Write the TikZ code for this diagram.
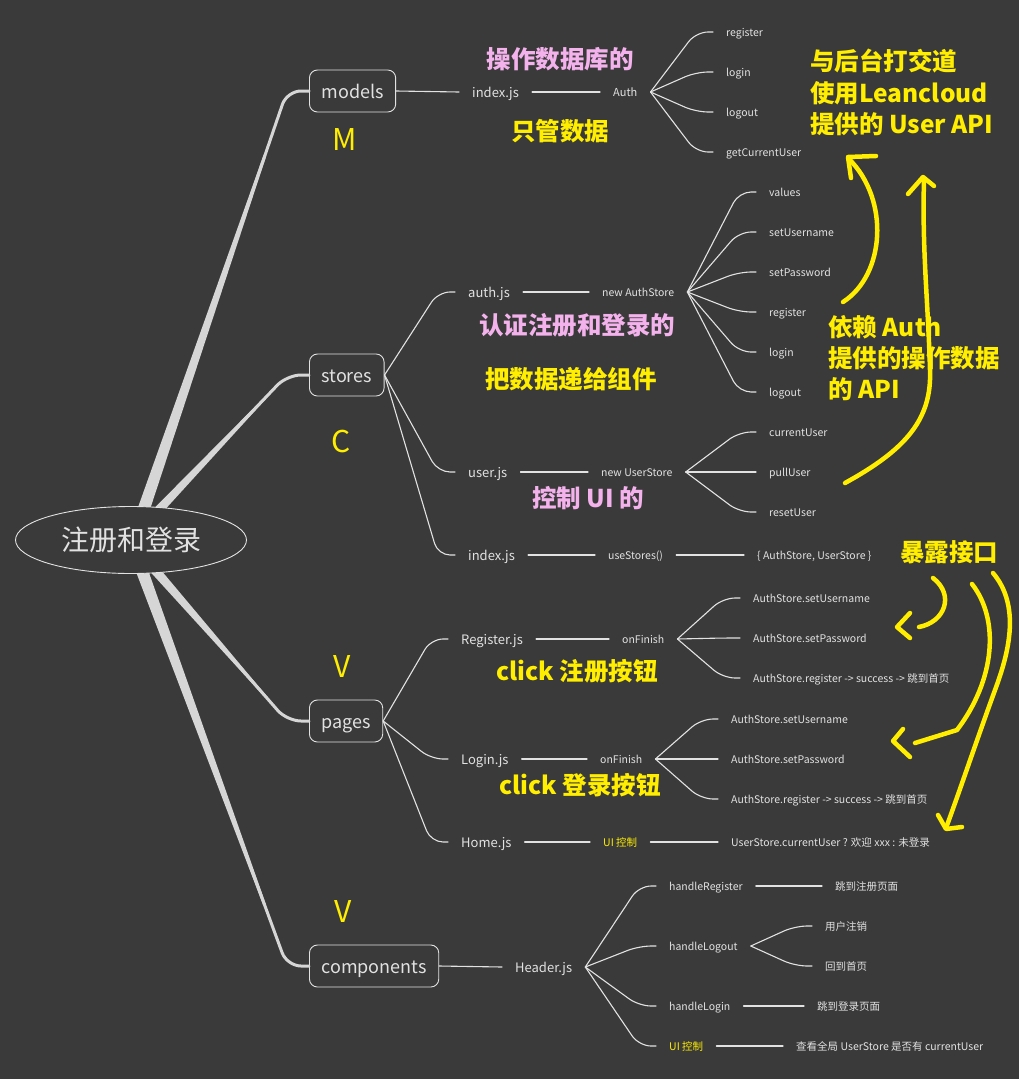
\documentclass[tikz,border=0pt]{standalone}
\usepackage{fontspec}
\setmainfont{Noto Sans CJK SC}
\usetikzlibrary{calc,shapes.geometric}
\definecolor{bg}{RGB}{58,58,58}
\definecolor{ink}{RGB}{226,226,226}
\definecolor{limb}{RGB}{214,214,214}
\definecolor{hl}{RGB}{255,238,0}
\definecolor{pk}{RGB}{243,178,236}
\begin{document}
\begin{tikzpicture}[x=1pt, y=-1pt, line join=round, line cap=round,
    lf/.style={anchor=west, inner sep=0pt, text=ink, text height=10pt, text depth=2pt, font=\fontsize{10.5}{12}\selectfont},
    fl/.style={lf, text height=12pt, font=\fontsize{13}{15}\selectfont},
    box/.style={draw=ink, line width=.9pt, rounded corners=8pt, anchor=west, text=ink, minimum height=42pt, inner xsep=12pt, text height=16pt, text depth=2pt, font=\fontsize{18}{20}\selectfont},
    twig/.style={draw=ink, line width=1.1pt, rounded corners=12pt, to path={([xshift=#1]\tikztostart.east) -- ([xshift=-30pt]\tikztotarget.west) -- ([xshift=-13pt]\tikztotarget.west)}},
    twig/.default=13pt,
    link/.style={draw=ink, line width=1.1pt, to path={([xshift=#1]\tikztostart.east) -- ([xshift=-13pt]\tikztotarget.west)}},
    link/.default=13pt,
    note/.style={text=hl, inner sep=0pt, yshift=-1.5pt, font=\fontsize{24.5}{28}\selectfont\bfseries},
    pnote/.style={note, text=pk},
    mvc/.style={note, font=\fontsize{30}{32}\selectfont},
    hand/.style={draw=hl, line width=4.5pt}]
    \fill[bg] (0,0) rectangle (1019,1079);
    \useasboundingbox (0,0) rectangle (1019,1079);
    % boxes
    \node[box] (models) at (309,91) {models};
    \node[box] (stores) at (309,375) {stores};
    \node[box] (pages) at (309,721) {pages};
    \node[box] (components) at (309,966) {components};
    % thick branches out of the root
    \foreach \sx/\sy/\b in {140/520/models, 149/520/stores, 146/560/pages, 138/560/components}{
        \coordinate (s) at (\sx,\sy);
        \coordinate (c) at ($(\b.west)+(-22,0)$);
        \fill[limb] ($(s)+(-6.5,0)$) -- ($(s)+(6.5,0)$) -- ($(s)!.85!(c)+(1.5,0)$) -- ($(s)!.85!(c)+(-1.5,0)$) -- cycle;
        \draw[limb, line width=3pt, rounded corners=14pt] (s) -- (c) -- (\b.west);
    }
    \node[ellipse, draw=ink, fill=bg, line width=.9pt, minimum width=231pt, minimum height=67pt, text=ink, font=\fontsize{28}{30}\selectfont] (root) at (131,540) {注册和登录};

    % models
    \node[fl] (mindex) at (472,92) {index.js};
    \node[lf, font=\fontsize{11}{12}\selectfont] (auth) at (613,92) {Auth};
    \draw[link=0pt] (models) to (mindex);
    \draw[link] (mindex) to (auth);
    \foreach \n/\y/\t in {areg/32/register, alog/72/login, aout/112/logout, acur/152/getCurrentUser}{
        \node[lf] (\n) at (726,\y) {\t};
        \draw[twig] (auth) to (\n);
    }

    % stores
    \node[fl] (authjs) at (468,292) {auth.js};
    \node[fl] (userjs) at (468,472) {user.js};
    \node[fl] (sindex) at (468,555) {index.js};
    \foreach \n in {authjs, userjs, sindex}
        \draw[twig=0pt] (stores) to (\n);
    \node[lf] (nauth) at (602,292) {new AuthStore};
    \draw[link] (authjs) to (nauth);
    \foreach \n/\y/\t in {aval/192/values, asetu/232/setUsername, asetp/272/setPassword, sreg/312/register, slog/352/login, sout/392/logout}{
        \node[lf] (\n) at (769,\y) {\t};
        \draw[twig] (nauth) to (\n);
    }
    \node[lf] (nuser) at (601,472) {new UserStore};
    \draw[link] (userjs) to (nuser);
    \foreach \n/\y/\t in {ucur/432/currentUser, upull/472/pullUser, ureset/512/resetUser}{
        \node[lf] (\n) at (769,\y) {\t};
        \draw[twig] (nuser) to (\n);
    }
    \node[lf] (usest) at (608,555) {useStores()};
    \node[lf] (both) at (757,555) {\{ AuthStore, UserStore \}};
    \draw[link] (sindex) to (usest);
    \draw[link] (usest) to (both);

    % pages
    \node[fl] (regjs) at (461,639) {Register.js};
    \node[fl] (logjs) at (461,759) {Login.js};
    \node[fl] (homejs) at (461,842) {Home.js};
    \foreach \n in {regjs, logjs, homejs}
        \draw[twig=0pt] (pages) to (\n);
    \node[lf] (rfin) at (622,639) {onFinish};
    \draw[link] (regjs) to (rfin);
    \foreach \n/\y/\t in {rsu/598/AuthStore.setUsername, rsp/638/AuthStore.setPassword, rgo/678/AuthStore.register -> success -> 跳到首页}{
        \node[lf] (\n) at (753,\y) {\t};
        \draw[twig] (rfin) to (\n);
    }
    \node[lf] (lfin) at (600,759) {onFinish};
    \draw[link] (logjs) to (lfin);
    \foreach \n/\y/\t in {lsu/719/AuthStore.setUsername, lsp/759/AuthStore.setPassword, lgo/799/AuthStore.register -> success -> 跳到首页}{
        \node[lf] (\n) at (731,\y) {\t};
        \draw[twig] (lfin) to (\n);
    }
    \node[lf, text=hl] (hctl) at (603,842) {UI 控制};
    \node[lf] (hcur) at (731,842) {UserStore.currentUser ? 欢迎 xxx : 未登录};
    \draw[link] (homejs) to (hctl);
    \draw[link] (hctl) to (hcur);

    % components
    \node[fl] (header) at (515,967) {Header.js};
    \draw[link=0pt] (components) to (header);
    \node[lf] (hreg) at (669,886) {handleRegister};
    \node[lf] (hout) at (669,946) {handleLogout};
    \node[lf] (hlog) at (669,1006) {handleLogin};
    \node[lf, text=hl] (cctl) at (669,1046) {UI 控制};
    \foreach \n in {hreg, hout, hlog, cctl}
        \draw[twig] (header) to (\n);
    \node[lf] (toreg) at (835,886) {跳到注册页面};
    \node[lf] (ulog) at (825,926) {用户注销};
    \node[lf] (uhome) at (825,966) {回到首页};
    \node[lf] (tolog) at (817,1006) {跳到登录页面};
    \node[lf] (chk) at (796,1046) {查看全局 UserStore 是否有 currentUser};
    \draw[link] (hreg) to (toreg);
    \draw[twig] (hout) to (ulog);
    \draw[twig] (hout) to (uhome);
    \draw[link] (hlog) to (tolog);
    \draw[link] (cctl) to (chk);

    % notes
    \node[pnote] (n1) at (560,58) {操作数据库的};
    \node[note] (n2) at (560,130) {只管数据};
    \node[mvc] (lm) at (345,138) {M};
    \foreach \t [count=\i] in {与后台打交道, 使用Leancloud, 提供的 User API}
        \node[note, anchor=west] (na\i) at (810,28.5+31.5*\i) {\t};
    \node[pnote] (n3) at (577,324) {认证注册和登录的};
    \node[note] (n4) at (571,378) {把数据递给组件};
    \node[mvc] (lc) at (341,440) {C};
    \node[pnote] (n5) at (588,497) {控制 UI 的};
    \foreach \t [count=\i] in {依赖 Auth, 提供的操作数据, 的 API}
        \node[note, anchor=west] (nb\i) at (828,295+31*\i) {\t};
    \node[note] (n6) at (949,551) {暴露接口};
    \node[note] (n7) at (577,670) {click 注册按钮};
    \node[note] (n8) at (580,784) {click 登录按钮};
    \node[mvc] (lv1) at (342,665) {V};
    \node[mvc] (lv2) at (343,910) {V};

    % hand drawn arrows
    \draw[hand] (843,302) .. controls (885,275) and (890,200) .. (849,159);
    \draw[hand] (876,156) -- (848,157) -- (851,178);
    \draw[hand] (845,483) .. controls (905,450) and (932,420) .. (930,370) .. controls (928,300) and (922,250) .. (924,180);
    \draw[hand] (908,194) -- (923,177) -- (934,186);
    \draw[hand] (933,578) .. controls (955,595) and (945,622) .. (919,627);
    \draw[hand] (910,613) -- (897,627) -- (910,638);
    \draw[hand] (972,584) .. controls (1000,620) and (995,680) .. (957,730) -- (915,743);
    \draw[hand] (903,729) -- (893,741) -- (910,757);
    \draw[hand] (993,573) .. controls (1020,605) and (1010,650) .. (995,690) .. controls (975,745) and (960,790) .. (946,828);
    \draw[hand] (938,815) -- (946,829) -- (962,827);
\end{tikzpicture}
\end{document}
